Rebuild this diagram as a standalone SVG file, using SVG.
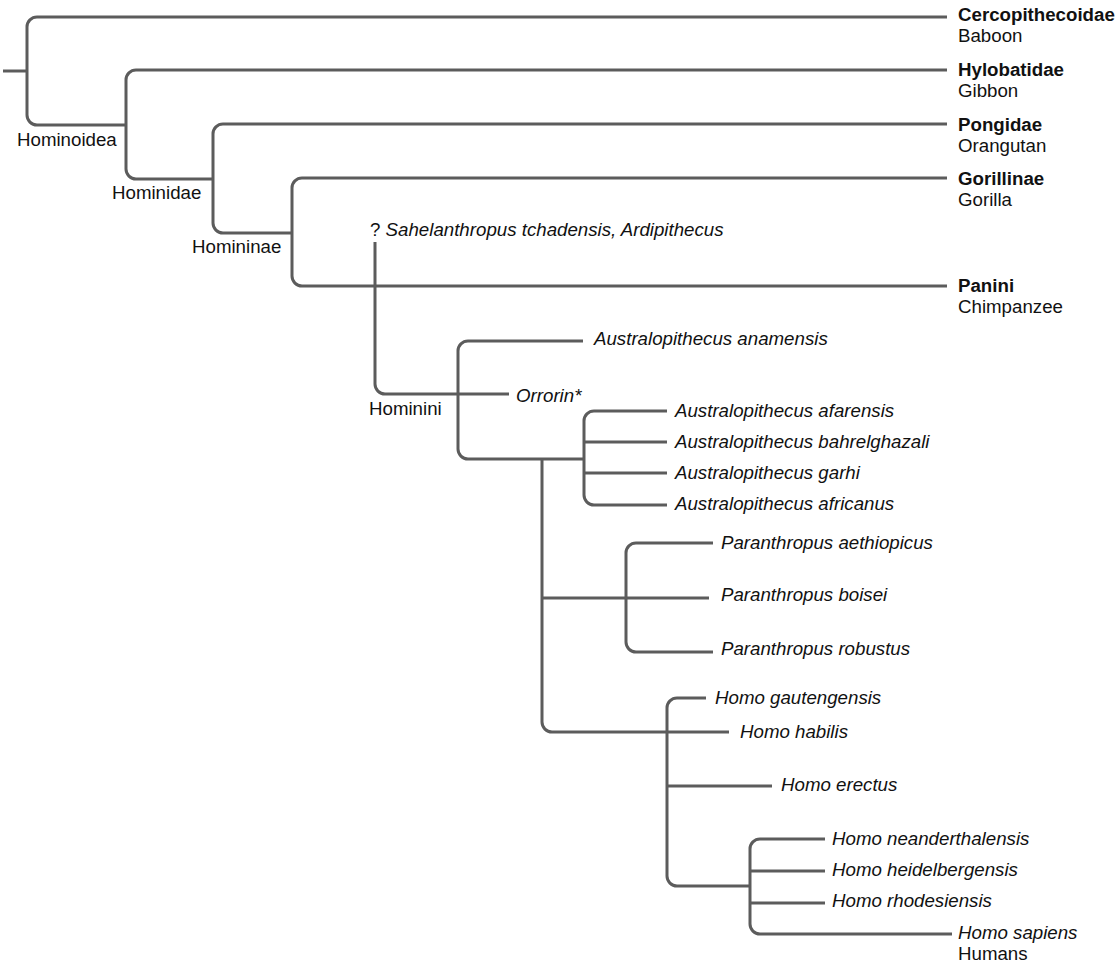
<svg xmlns="http://www.w3.org/2000/svg" width="1117" height="969" viewBox="0 0 1117 969">
<style>
.c{fill:none;stroke:#5c5c5c;stroke-width:3;stroke-linecap:butt;stroke-linejoin:round}
text{font-family:"Liberation Sans",Arial,sans-serif;font-size:18.7px;fill:#111}
.b{font-weight:bold}
.i{font-style:italic}
</style>
<rect width="1117" height="969" fill="#fff"/>
<g id="connectors">
<path class="c" d="M3,71H27"/>
<path class="c" d="M947,17H37A10,10 0 0 0 27,27V115A10,10 0 0 0 37,125H126"/>
<path class="c" d="M947,70H136A10,10 0 0 0 126,80V169A10,10 0 0 0 136,179H213"/>
<path class="c" d="M947,124H223A10,10 0 0 0 213,134V223A10,10 0 0 0 223,233H292"/>
<path class="c" d="M947,178H302A10,10 0 0 0 292,188V276A10,10 0 0 0 302,286H947"/>
<path class="c" d="M375,242V384A10,10 0 0 0 385,394H509"/>
<path class="c" d="M583,341H468A10,10 0 0 0 458,351V449A10,10 0 0 0 468,459H584"/>
<path class="c" d="M667,411H594A10,10 0 0 0 584,421V495A10,10 0 0 0 594,505H667M584,442H667M584,473H667"/>
<path class="c" d="M542,459V722A10,10 0 0 0 552,732H729M542,598H709"/>
<path class="c" d="M713,543H636A10,10 0 0 0 626,553V642A10,10 0 0 0 636,652H713"/>
<path class="c" d="M706,698H677A10,10 0 0 0 667,708V876A10,10 0 0 0 677,886H750M667,786H772"/>
<path class="c" d="M825,839H760A10,10 0 0 0 750,849V924A10,10 0 0 0 760,934H952M750,871H825M750,903H825"/>
</g>
<g id="hominoidea"><text x="17" y="146">Hominoidea</text></g>
<g id="hominidae"><text x="112" y="199">Hominidae</text></g>
<g id="homininae"><text x="192" y="253">Homininae</text></g>
<g id="hominini"><text x="369" y="415">Hominini</text></g>
<g id="cercopithecoidae"><text x="958" y="21" class="b">Cercopithecoidae</text><text x="958" y="42">Baboon</text></g>
<g id="hylobatidae"><text x="958" y="76" class="b">Hylobatidae</text><text x="958" y="97">Gibbon</text></g>
<g id="pongidae"><text x="958" y="131" class="b">Pongidae</text><text x="958" y="152">Orangutan</text></g>
<g id="gorillinae"><text x="958" y="185" class="b">Gorillinae</text><text x="958" y="206">Gorilla</text></g>
<g id="panini"><text x="958" y="292" class="b">Panini</text><text x="958" y="313">Chimpanzee</text></g>
<g id="sahelanthropus"><text x="370" y="236">? <tspan class="i">Sahelanthropus tchadensis, Ardipithecus</tspan></text></g>
<g id="orrorin"><text x="516" y="402" class="i">Orrorin*</text></g>
<g id="a-anamensis"><text x="594" y="345" class="i">Australopithecus anamensis</text></g>
<g id="a-afarensis"><text x="675" y="417" class="i">Australopithecus afarensis</text></g>
<g id="a-bahrelghazali"><text x="675" y="448" class="i">Australopithecus bahrelghazali</text></g>
<g id="a-garhi"><text x="675" y="479" class="i">Australopithecus garhi</text></g>
<g id="a-africanus"><text x="675" y="510" class="i">Australopithecus africanus</text></g>
<g id="p-aethiopicus"><text x="721" y="549" class="i">Paranthropus aethiopicus</text></g>
<g id="p-boisei"><text x="721" y="601" class="i">Paranthropus boisei</text></g>
<g id="p-robustus"><text x="721" y="655" class="i">Paranthropus robustus</text></g>
<g id="h-gautengensis"><text x="715" y="704" class="i">Homo gautengensis</text></g>
<g id="h-habilis"><text x="740" y="738" class="i">Homo habilis</text></g>
<g id="h-erectus"><text x="781" y="791" class="i">Homo erectus</text></g>
<g id="h-neanderthalensis"><text x="832" y="845" class="i">Homo neanderthalensis</text></g>
<g id="h-heidelbergensis"><text x="832" y="876" class="i">Homo heidelbergensis</text></g>
<g id="h-rhodesiensis"><text x="832" y="907" class="i">Homo rhodesiensis</text></g>
<g id="h-sapiens"><text x="958" y="939" class="i">Homo sapiens</text><text x="958" y="960">Humans</text></g>
</svg>
